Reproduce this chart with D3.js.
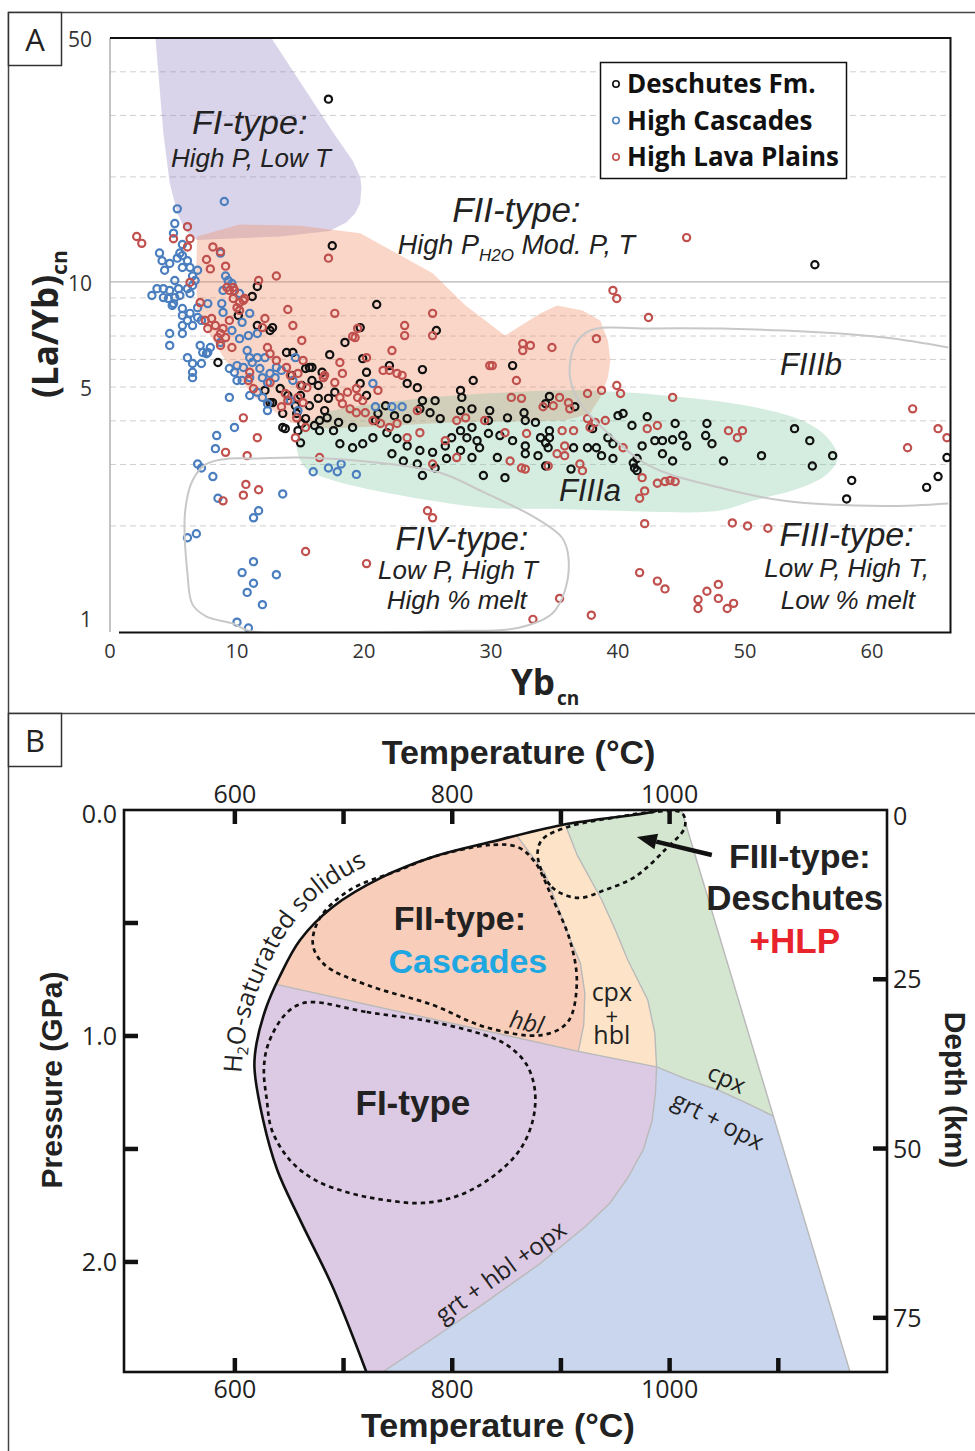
<!DOCTYPE html>
<html><head><meta charset="utf-8">
<script src="https://cdn.jsdelivr.net/npm/d3@7"></script>
<style>body{margin:0;background:#fff}svg{display:block}</style>
</head><body>
<svg id="c" width="975" height="1451"></svg>
<script>
// ---------------- DATA: Panel A  [Yb_cn, (La/Yb)_cn] ----------------
const deschutes = [[17.2,33.4],[17.5,12.7],[55.5,11.2],[11.6,9.71],[11.2,9.09],[10.1,8.02],[12.8,7.40],[21.0,8.62],[19.7,7.40],[18.5,6.71],[25.7,7.26],[13.9,6.28],[14.4,6.28],[17.3,6.19],[8.5,5.88],[19.9,6.03],[20.2,5.51],[24.6,5.61],[24.2,4.98],[28.6,5.22],[27.6,4.89],[27.7,4.67],[16.7,5.51],[15.9,5.69],[12.8,4.51],[13.8,3.80],[15.0,3.46],[15.1,3.93],[22.0,5.76],[23.4,5.12],[19.7,5.12],[20.2,4.73],[24.6,4.57],[25.6,4.57],[24.4,4.33],[21.7,4.42],[21.1,4.20],[22.4,4.14],[23.4,4.06],[25.2,4.22],[26.0,4.06],[27.6,4.28],[28.5,4.33],[29.9,4.28],[29.8,4.01],[28.5,3.83],[27.6,3.75],[26.9,3.58],[28.1,3.58],[28.9,3.51],[29.8,3.68],[26.4,3.39],[25.4,3.25],[24.4,3.29],[23.4,3.39],[22.6,3.56],[21.8,3.70],[20.7,3.58],[19.9,3.44],[19.1,3.35],[18.1,3.44],[17.6,3.75],[16.5,3.75],[17.1,4.08],[18.0,3.96],[19.1,3.83],[20.9,4.01],[22.2,3.22],[23.1,3.07],[24.2,3.01],[24.6,2.79],[25.6,2.93],[26.5,3.12],[27.6,3.29],[29.1,3.35],[29.4,2.79],[28.5,3.14],[15.0,4.73],[15.7,4.42],[16.4,4.64],[16.9,4.28],[15.4,4.06],[16.1,3.88],[14.8,3.75],[17.2,4.64],[17.7,4.83],[14.0,4.73],[14.6,4.42],[15.1,5.05],[15.9,5.22],[13.4,4.95],[14.3,5.40],[15.4,5.65],[16.4,5.05],[31.7,5.76],[34.6,4.70],[34.3,4.48],[36.6,4.39],[31.3,4.08],[32.6,4.22],[32.7,4.01],[33.5,3.96],[34.6,3.75],[30.7,3.63],[31.7,3.51],[33.9,3.58],[34.6,3.58],[32.7,3.22],[33.7,3.18],[34.3,2.97],[30.5,3.14],[31.1,2.75],[38.0,3.80],[36.5,3.35],[37.6,3.35],[38.3,3.35],[39.6,3.44],[39.2,3.58],[40.0,4.14],[40.4,4.20],[41.1,3.88],[42.3,4.11],[41.9,3.39],[42.9,3.51],[43.5,3.51],[44.3,3.53],[44.5,3.93],[45.1,3.63],[45.4,3.39],[43.5,3.22],[44.3,3.07],[41.5,3.12],[41.3,2.93],[39.6,3.12],[38.7,3.18],[36.3,2.91],[47.0,3.93],[46.9,3.63],[47.4,3.44],[48.3,3.07],[51.3,3.18],[53.9,3.80],[55.1,3.51],[55.3,2.97],[56.9,3.18],[58.4,2.70],[58.0,2.39],[64.3,2.58],[65.2,2.77],[65.9,3.14],[11.6,7.50],[12.6,7.26],[15.7,5.69],[12.2,4.89],[12.6,4.51],[13.6,4.20],[14.7,4.20],[16.5,4.01],[13.6,3.83],[34.3,3.46],[34.5,3.35],[32.7,3.39],[41.2,3.03],[41.5,2.88]];

const highCascades = [[9.0,17.0],[5.3,16.2],[5.1,14.7],[5.0,13.8],[5.7,12.8],[3.9,12.1],[4.1,11.5],[4.3,10.8],[4.7,11.3],[5.3,11.7],[5.7,11.9],[5.5,12.1],[6.1,11.5],[6.3,11.0],[5.7,11.0],[6.9,10.8],[8.7,12.1],[6.5,10.4],[5.1,10.1],[3.7,9.57],[4.2,9.57],[4.7,9.46],[5.4,9.57],[6.1,9.57],[6.5,9.77],[6.7,10.1],[3.3,9.15],[4.2,9.02],[4.6,8.96],[5.1,9.02],[5.5,9.15],[6.3,9.27],[4.9,8.56],[5.7,8.39],[9.1,10.4],[9.3,10.1],[9.6,9.90],[10.2,9.27],[8.9,9.46],[7.7,8.67],[6.9,8.44],[4.7,7.12],[4.7,6.58],[5.7,7.12],[5.7,7.50],[5.7,8.02],[6.1,7.76],[6.5,7.50],[6.9,7.91],[7.2,7.76],[6.3,8.13],[5.0,8.67],[7.1,6.58],[7.3,6.28],[7.7,6.28],[7.9,6.49],[6.1,6.07],[6.5,5.84],[7.2,5.84],[6.5,5.51],[6.5,5.32],[8.7,6.71],[9.4,5.65],[9.8,5.51],[10.0,5.76],[10.5,5.69],[11.0,6.07],[11.2,5.88],[11.6,6.07],[12.2,6.07],[10.9,7.02],[10.8,6.36],[10.2,6.88],[11.6,7.12],[10.0,5.22],[10.4,5.22],[11.0,5.32],[9.4,4.67],[11.0,4.73],[11.8,5.65],[12.0,5.32],[12.6,5.47],[13.1,5.69],[13.5,5.58],[13.0,5.32],[12.4,5.15],[14.4,5.22],[14.6,6.07],[11.6,4.83],[12.0,4.67],[12.4,4.48],[12.4,4.28],[14.2,4.57],[14.8,4.28],[9.8,3.83],[8.4,3.63],[8.9,8.18],[8.8,8.67],[9.6,7.26],[10.4,7.66],[11.0,8.13],[7.6,6.23],[8.1,2.77],[8.3,3.33],[6.9,3.01],[7.2,2.93],[8.5,2.40],[11.3,2.11],[11.7,2.21],[13.6,2.47],[6.1,1.85],[6.8,1.90],[11.3,1.58],[10.4,1.47],[11.3,1.37],[10.8,1.29],[13.1,1.45],[12.0,1.19],[10.0,1.06],[10.9,1.02],[16.0,2.86],[17.2,2.93],[17.9,2.86],[18.2,3.01],[19.4,2.81],[20.7,5.12],[20.9,4.39],[22.2,4.39],[23.0,4.39]];

const highLavaPlains = [[2.1,13.5],[2.5,12.9],[6.1,14.4],[6.3,13.3],[5.0,13.3],[6.1,12.6],[8.1,12.6],[7.6,11.6],[7.9,10.9],[9.1,11.1],[8.7,12.2],[17.2,11.7],[13.1,10.4],[11.7,10.1],[9.7,9.64],[9.2,9.64],[10.2,8.73],[7.1,8.73],[6.3,9.97],[10.0,8.44],[10.6,8.97],[14.0,8.34],[14.4,7.50],[15.1,6.80],[17.7,8.13],[19.3,6.93],[19.5,7.36],[23.2,7.50],[23.2,7.02],[25.4,8.13],[25.4,7.02],[22.2,6.36],[20.2,6.07],[12.2,7.86],[12.0,7.40],[7.5,7.76],[7.7,7.36],[8.7,7.12],[9.4,9.46],[9.8,9.46],[9.7,8.97],[10.5,8.85],[10.2,8.29],[8.3,7.50],[8.9,7.36],[9.4,7.76],[8.5,6.93],[9.1,6.93],[8.7,6.58],[12.4,6.49],[12.6,6.23],[15.2,5.96],[13.1,5.96],[13.9,5.69],[14.8,5.47],[11.0,5.51],[10.9,5.22],[12.6,5.15],[11.3,4.95],[14.2,5.40],[15.0,5.05],[15.5,4.98],[16.8,5.32],[13.8,4.79],[14.0,4.57],[14.8,4.67],[15.2,4.51],[13.5,4.39],[14.7,4.08],[10.5,4.08],[11.6,3.58],[15.4,3.83],[14.6,3.58],[9.6,6.49],[8.0,7.86],[9.1,3.25],[10.8,3.18],[10.7,2.63],[10.5,2.45],[11.7,2.54],[8.9,2.36],[15.4,1.69],[20.2,1.56],[25.0,2.21],[25.4,2.11],[16.5,3.14],[21.5,5.58],[29.9,5.76],[19.1,6.98],[18.1,5.88],[22.0,5.58],[22.6,5.47],[23.0,5.40],[18.3,5.47],[17.7,5.15],[16.9,5.40],[18.7,4.83],[19.4,4.95],[19.5,4.67],[21.1,4.89],[19.9,4.57],[18.1,4.67],[18.3,4.48],[18.9,4.33],[19.4,4.22],[20.1,4.22],[20.7,4.01],[21.3,3.93],[22.0,3.83],[22.6,3.93],[24.2,4.28],[23.4,3.58],[24.4,3.70],[27.3,4.01],[28.0,4.08],[29.5,4.01],[26.4,3.51],[27.3,3.14],[25.4,3.01],[39.6,9.46],[39.9,8.97],[42.4,7.91],[38.3,6.88],[32.5,6.66],[33.1,6.58],[32.5,6.36],[34.8,6.49],[30.1,5.76],[32.0,5.22],[39.9,5.05],[40.2,4.79],[38.7,4.89],[37.6,4.79],[35.4,4.67],[36.1,4.51],[36.2,4.33],[34.1,4.39],[34.9,4.42],[31.6,4.67],[32.4,4.64],[44.3,4.67],[37.6,4.06],[39.0,4.01],[35.6,3.75],[36.5,3.75],[35.8,3.39],[35.2,3.22],[35.8,3.18],[37.0,3.01],[37.2,2.88],[42.3,3.80],[43.1,3.88],[40.4,3.35],[31.5,3.07],[32.4,2.93],[34.5,2.97],[31.1,3.70],[32.8,3.68],[38.2,3.96],[37.8,3.83],[48.7,3.75],[49.8,3.75],[49.4,3.58],[41.9,2.75],[42.1,2.52],[41.7,2.40],[43.1,2.65],[43.7,2.68],[44.1,2.70],[44.5,2.68],[32.7,2.91],[42.1,2.03],[49.0,2.04],[50.2,2.00],[51.8,1.97],[41.7,1.47],[43.1,1.39],[43.7,1.32],[46.3,1.23],[46.3,1.16],[47.0,1.30],[47.9,1.36],[47.9,1.24],[48.6,1.16],[49.1,1.20],[35.4,1.24],[33.3,1.08],[37.9,1.11],[63.2,4.33],[62.8,3.35],[65.2,3.80],[65.9,3.58],[45.4,13.4]];

// region outlines (Yb, La/Yb)
const fiRegion = [[3.54,52],[12.4,52],[17.6,26.7],[19.1,22.3],[19.7,20.0],[19.8,18.7],[19.7,16.8],[19.3,15.7],[18.6,14.8],[17.3,14.0],[13.4,13.5],[6.85,13.2],[5.9,14.1],[5.3,15.8],[4.7,19.2],[4.2,26.7]];
const fiiRegion = [[6.85,13.5],[10.2,14.6],[15.0,14.5],[19.7,13.8],[25.4,10.6],[28.0,8.56],[31.1,7.02],[33.9,8.13],[35.2,8.56],[37.2,8.29],[38.6,7.76],[39.2,6.80],[39.4,5.96],[39.2,5.32],[38.6,4.67],[37.8,4.20],[35.8,4.01],[26.8,3.96],[17.3,3.80],[14.2,3.96],[11.4,4.67],[9.1,5.96],[7.9,7.02],[6.85,8.29],[6.8,11.0]];
const fiiiaRegion = [[14.7,3.35],[15.0,3.75],[16.3,4.08],[17.6,4.28],[22.8,4.57],[29.5,4.79],[37.4,4.89],[45.3,4.67],[50.6,4.39],[54.5,4.01],[56.5,3.58],[57.3,3.14],[56.5,2.82],[54.5,2.58],[50.6,2.36],[47.9,2.21],[40.0,2.21],[34.8,2.24],[29.9,2.25],[25.4,2.36],[17.6,2.70],[15.4,2.93]];
const fiiibOutline = [[66.0,6.49],[61.0,6.93],[53.1,7.26],[42.7,7.36],[37.8,7.26],[36.6,6.58],[36.2,5.40],[36.9,4.57],[39.0,3.75],[42.5,2.97],[47.9,2.58],[53.1,2.36],[61.0,2.28],[66.0,2.32]];
const fivOutline = [[11.3,3.12],[15.0,3.14],[21.3,3.03],[26.0,2.84],[29.5,2.49],[33.5,2.11],[35.6,1.85],[36.1,1.62],[35.8,1.30],[34.8,1.12],[32.1,1.02],[26.8,1.0],[11.0,1.0],[9.7,1.05],[7.6,1.10],[6.5,1.19],[6.1,1.46],[5.9,2.17],[6.5,2.70],[7.6,3.01],[9.4,3.12]];

const xTicksA = [0,10,20,30,40,50,60];
const yTickLabelsA = [1,5,10,50];
const yGridA = [2,3,4,5,6,7,8,9,20,30,40];
const seriesNames = ["Deschutes Fm.","High Cascades","High Lava Plains"];

// ---------------- DATA: Panel B  [T (°C), P (GPa)] ----------------
const solidus = [[990,0.0],[983,0.01],[901,0.066],[835,0.142],[782,0.208],[736,0.296],[690,0.429],[660,0.575],[641,0.739],[629,0.872],[620,1.031],[618,1.137],[626,1.372],[639,1.593],[660,1.814],[690,2.111],[721,2.487]];
const solidusLabelPath = [[606,1.165],[609,1.018],[617,0.858],[629,0.71],[647,0.548],[677,0.38],[724,0.24],[773,0.15],[812,0.10],[850,0.07]];
const pinkPurpleLine = [[620,0.753],[641,0.775],[916,1.068],[988,1.137]];
const pinkCreamLine = [[855,0.08],[860.3,0.119],[885.2,0.279],[906.3,0.544],[918,0.68],[922,0.81],[921,0.95],[916,1.068]];
const creamGreenLine = [[900,0.03],[903.6,0.06],[915,0.2],[937.6,0.398],[950,0.53],[961.5,0.664],[979.9,0.841],[986.4,0.987],[988,1.137]];
const greenBlueLine = [[988,1.137],[1015,1.19],[1044.3,1.239],[1070,1.295],[1096.8,1.358]];
const purpleBlueLine = [[988,1.137],[987,1.25],[984,1.372],[976,1.5],[962,1.624],[945,1.74],[922,1.845],[880,2.01],[830,2.181],[785,2.33],[736,2.487]];
const rightEdge = [[1011,0],[1166,2.487]];
const fiiLoop = [[860.3,0.164],[834.6,0.155],[782.2,0.208],[751.8,0.265],[705.8,0.354],[678.2,0.478],[671.8,0.597],[682.8,0.686],[721.4,0.774],[782.2,0.863],[830,0.960],[882.4,0.996],[906.3,0.938],[914.6,0.765],[908.2,0.575],[891.6,0.385],[876,0.230]];
const fiLoop = [[671.8,0.850],[721.4,0.894],[782.2,0.938],[834.6,1.004],[853,1.049],[868.6,1.128],[876,1.239],[874.2,1.372],[862.2,1.504],[839.2,1.615],[807,1.704],[773,1.739],[738,1.726],[705.8,1.695],[673.6,1.637],[650.6,1.549],[634,1.416],[629.4,1.283],[626.7,1.150],[630.4,1.040],[644.2,0.916],[658,0.863]];
const fiiiLoop = [[878.7,0.208],[891.6,0.341],[915.6,0.389],[940.4,0.354],[968,0.296],[995.6,0.177],[1014,0.075],[1011.2,0.013],[983.6,0.009],[952.3,0.031],[906.3,0.075],[882.4,0.133]];
const arrowTP = [[1038.8,0.199],[969.8,0.119]];
const tempTicks = [600,700,800,900,1000,1100];
const tempLabels = [600,800,1000];
const pressTicks = [0.5,1.0,1.5,2.0];
const pressLabels = [0.0,1.0,2.0];
const depthTicks = [25,50,75];
const depthLabels = [0,25,50,75];

// ---------------- DRAW ----------------
const svg = d3.select('#c');
const FS = "'Open Sans', sans-serif", AR = "'Liberation Sans', Arial, sans-serif";

// figure frame
svg.append('path').attr('d','M8.5,1451 V12.5 H975 M8.5,713.5 H975').attr('fill','none').attr('stroke','#444').attr('stroke-width',1.5);
[['A',12.5],['B',713.5]].forEach(([t,y])=>{
  svg.append('rect').attr('x',8.5).attr('y',y).attr('width',53).attr('height',53).attr('fill','#fff').attr('stroke','#333').attr('stroke-width',1.5);
  svg.append('text').attr('x',35).attr('y',y+38).attr('text-anchor','middle').attr('font-family',FS).attr('font-size',31).attr('fill','#222').text(t);
});

// ===== Panel A =====
const xA = d3.scaleLinear().domain([0,66.14]).range([110,950]);
const yA = d3.scaleLog().domain([1,50]).range([631,38]);
const gA = svg.append('g');
gA.append('clipPath').attr('id','clipA').append('rect').attr('x',110).attr('y',38).attr('width',840).attr('height',594);

// grid
gA.selectAll('.grid').data(yGridA).join('line').attr('x1',110).attr('x2',949).attr('y1',d=>yA(d)).attr('y2',d=>yA(d))
  .attr('stroke','#cfcfcf').attr('stroke-width',1).attr('stroke-dasharray','6,4');
gA.append('line').attr('x1',110).attr('x2',949).attr('y1',yA(10)).attr('y2',yA(10)).attr('stroke','#b3b3b3').attr('stroke-width',1.2);

const lineA = d3.line().x(d=>xA(d[0])).y(d=>yA(d[1]));
const regA = gA.append('g').attr('clip-path','url(#clipA)');
regA.append('path').attr('d',lineA.curve(d3.curveLinearClosed)(fiRegion)).attr('fill','rgb(149,132,195)').attr('fill-opacity',0.35);
regA.append('path').attr('d',lineA.curve(d3.curveLinearClosed)(fiiRegion)).attr('fill','rgb(238,138,98)').attr('fill-opacity',0.35);

// points
const ptsG = gA.append('g').attr('clip-path','url(#clipA)');
const drawPts = (data,color)=> ptsG.append('g').selectAll('circle').data(data).join('circle')
  .attr('cx',d=>xA(d[0])).attr('cy',d=>yA(d[1])).attr('r',3.6).attr('fill','none').attr('stroke',color).attr('stroke-width',2.2);
drawPts(deschutes,'#111');
drawPts(highCascades,'#4a7ebf');
drawPts(highLavaPlains,'#c0504d');

// green overlay region
regA.append('path').attr('d',lineA.curve(d3.curveCatmullRomClosed)(fiiiaRegion)).attr('fill','rgb(115,192,152)').attr('fill-opacity',0.3);
const outG = gA.append('g').attr('clip-path','url(#clipA)');
outG.append('path').attr('d',lineA.curve(d3.curveCatmullRom)(fiiibOutline)).attr('fill','none').attr('stroke','#c8c8c8').attr('stroke-width',2);
outG.append('path').attr('d',lineA.curve(d3.curveCatmullRomClosed)(fivOutline)).attr('fill','none').attr('stroke','#c8c8c8').attr('stroke-width',2);

// axes lines
gA.append('line').attr('x1',110).attr('x2',110).attr('y1',38).attr('y2',632).attr('stroke','#b0b0b0').attr('stroke-width',1.5);
gA.append('path').attr('d','M119,632.5 H950.5 V38 H110').attr('fill','none').attr('stroke','#111').attr('stroke-width',2);

// tick labels
gA.selectAll('.xt').data(xTicksA).join('text').attr('x',d=>xA(d)).attr('y',658).attr('text-anchor','middle')
  .attr('font-family',FS).attr('font-size',20).attr('fill','#333').text(d=>d);
gA.selectAll('.yt').data(yTickLabelsA).join('text').attr('x',92).attr('y',d=>yA(d)+(d===1?-4:9)).attr('text-anchor','end')
  .attr('font-family',FS).attr('font-size',21).attr('fill','#333').text(d=>d);

// axis titles
const ylab = gA.append('text').attr('transform','translate(58,398) rotate(-90)').attr('font-family',FS).attr('font-weight',700).attr('font-size',35).attr('fill','#222');
ylab.append('tspan').text('(La/Yb)');
ylab.append('tspan').attr('font-size',21).attr('dy',9).text('cn');
const xlab = gA.append('text').attr('x',511).attr('y',695).attr('font-family',FS).attr('font-weight',700).attr('font-size',35).attr('fill','#222');
xlab.append('tspan').text('Yb');
xlab.append('tspan').attr('font-size',19).attr('dy',10).attr('dx',2).text('cn');

// region labels (positioned in data space)
const labA = (t,yb,ly,size,italic=true)=> gA.append('text').attr('x',xA(yb)).attr('y',yA(ly)).attr('text-anchor','middle')
  .attr('font-family',AR).attr('font-style',italic?'italic':'normal').attr('font-size',size).attr('fill','#222').text(t);
labA('FI-type:',11.0,26.5,34);
labA('High P, Low T',11.1,21.3,26);
labA('FII-type:',32.0,14.9,35);
const hp = gA.append('text').attr('x',xA(32.0)).attr('y',yA(12.0)).attr('text-anchor','middle').attr('font-family',AR).attr('font-style','italic').attr('font-size',27).attr('fill','#222');
hp.append('tspan').text('High P');
hp.append('tspan').attr('font-size',17).attr('dy',7).text('H2O');
hp.append('tspan').attr('dy',-7).text(' Mod. P, T');
labA('FIIIb',55.2,5.40,31);
labA('FIIIa',37.8,2.36,31);
labA('FIV-type:',27.7,1.71,33);
labA('Low P, High T',27.4,1.41,26);
labA('High % melt',27.3,1.16,26);
labA('FIII-type:',58.0,1.75,34);
labA('Low P, High T,',58.0,1.43,26);
labA('Low % melt',58.1,1.16,26);

// legend
const leg = gA.append('g');
leg.append('rect').attr('x',600.5).attr('y',62.5).attr('width',246).attr('height',116).attr('fill','#fff').attr('stroke','#111').attr('stroke-width',1.5);
const legCols = ['#111','#4a7ebf','#c0504d'];
seriesNames.forEach((n,i)=>{
  const cy = 84 + i*36.5;
  leg.append('circle').attr('cx',616).attr('cy',cy).attr('r',3.2).attr('fill','none').attr('stroke',legCols[i]).attr('stroke-width',1.6);
  leg.append('text').attr('x',627).attr('y',cy+9).attr('font-family',FS).attr('font-weight',700).attr('font-size',26).attr('fill','#111').text(n);
});

// ===== Panel B =====
const xB = d3.scaleLinear().domain([498,1200]).range([124,887]);
const yB = d3.scaleLinear().domain([0,2.487]).range([810,1372]);
const yD = d3.scaleLinear().domain([0,83]).range([810,1372]);
const gB = svg.append('g');
const lineB = d3.line().x(d=>xB(d[0])).y(d=>yB(d[1]));
const solPath = lineB.curve(d3.curveCatmullRom)(solidus);
const clipD = solPath + `L${xB(1166)},${yB(2.487)}L${xB(1011)},${yB(0)}Z`;
gB.append('clipPath').attr('id','melt').append('path').attr('d',clipD);
const rg = gB.append('g').attr('clip-path','url(#melt)');
const poly = pts => lineB.curve(d3.curveLinearClosed)(pts);
rg.append('rect').attr('x',124).attr('y',810).attr('width',763).attr('height',562).attr('fill','#cad6ee');
rg.append('path').attr('d',poly([[498,0.615],...pinkPurpleLine.slice(1),...purpleBlueLine.slice(1),[498,2.487]])).attr('fill','#dcc9e3');
rg.append('path').attr('d',poly([[900,0],[1011,0],...greenBlueLine.slice().reverse(),...creamGreenLine.slice().reverse()])).attr('fill','#d4e6d0');
rg.append('path').attr('d',poly([[850,0],[900,0],...creamGreenLine,[916,1.068],...pinkCreamLine.slice().reverse().slice(1)])).attr('fill','#fde4c8');
rg.append('path').attr('d',poly([[498,0],[850,0],...pinkCreamLine,[641,0.775],[498,0.615]])).attr('fill','#f8cdb9');
[pinkPurpleLine,pinkCreamLine,creamGreenLine,greenBlueLine,purpleBlueLine].forEach(l=>{
  rg.append('path').attr('d',lineB.curve(d3.curveLinear)(l)).attr('fill','none').attr('stroke','#b9b9b9').attr('stroke-width',1.4);
});
gB.append('path').attr('d',lineB.curve(d3.curveLinear)(rightEdge)).attr('fill','none').attr('stroke','#b9b9b9').attr('stroke-width',1.4);
gB.append('path').attr('d',solPath).attr('fill','none').attr('stroke','#111').attr('stroke-width',2.6);

// dashed loops
[fiiLoop,fiLoop,fiiiLoop].forEach(l=>{
  gB.append('path').attr('d',lineB.curve(d3.curveCatmullRomClosed)(l)).attr('fill','none').attr('stroke','#111').attr('stroke-width',2.7).attr('stroke-dasharray','4.5,4');
});

// arrow
const [a0,a1] = arrowTP;
const ax0=xB(a0[0]), ay0=yB(a0[1]), ax1=xB(a1[0]), ay1=yB(a1[1]);
const ang = Math.atan2(ay1-ay0, ax1-ax0);
const hl=20, hw=8;
const bx = ax1 - hl*Math.cos(ang), by = ay1 - hl*Math.sin(ang);
gB.append('line').attr('x1',ax0).attr('y1',ay0).attr('x2',bx).attr('y2',by).attr('stroke','#111').attr('stroke-width',4.5);
gB.append('path').attr('d',`M${ax1},${ay1}L${bx - hw*Math.sin(ang)},${by + hw*Math.cos(ang)}L${bx + hw*Math.sin(ang)},${by - hw*Math.cos(ang)}Z`).attr('fill','#111');

// frame & ticks
gB.append('rect').attr('x',124).attr('y',810).attr('width',763).attr('height',562).attr('fill','none').attr('stroke','#111').attr('stroke-width',2.6);
const tk = gB.append('g').attr('stroke','#111').attr('stroke-width',4.5);
tempTicks.forEach(t=>{
  tk.append('line').attr('x1',xB(t)).attr('x2',xB(t)).attr('y1',810).attr('y2',824);
  tk.append('line').attr('x1',xB(t)).attr('x2',xB(t)).attr('y1',1372).attr('y2',1358);
});
pressTicks.forEach(p=> tk.append('line').attr('x1',124).attr('x2',138).attr('y1',yB(p)).attr('y2',yB(p)));
depthTicks.forEach(d=> tk.append('line').attr('x1',873).attr('x2',887).attr('y1',yD(d)).attr('y2',yD(d)));

const tB = (sel)=> sel.attr('font-family',FS).attr('font-size',25).attr('fill','#222');
tempLabels.forEach(t=>{
  tB(gB.append('text')).attr('x',xB(t)).attr('y',803).attr('text-anchor','middle').text(t);
  tB(gB.append('text')).attr('x',xB(t)).attr('y',1398).attr('text-anchor','middle').text(t);
});
pressLabels.forEach(p=> tB(gB.append('text')).attr('x',117).attr('y',yB(p)+9 + (p===0?4:0)).attr('text-anchor','end').text(p.toFixed(1)));
depthLabels.forEach(d=> tB(gB.append('text')).attr('x',893).attr('y',yD(d)+9 + (d===0?6:0)).text(d));

const boldB = (t,T,P,size,color='#222')=> gB.append('text').attr('x',xB(T)).attr('y',yB(P)).attr('text-anchor','middle')
  .attr('font-family',AR).attr('font-weight',700).attr('font-size',size).attr('fill',color).text(t);
boldB('Temperature (°C)',861,-0.204,34);
boldB('Temperature (°C)',842,2.775,34);
gB.append('text').attr('transform','translate(62,1080) rotate(-90)').attr('text-anchor','middle').attr('font-family',AR).attr('font-weight',700).attr('font-size',30).attr('fill','#222').text('Pressure (GPa)');
gB.append('text').attr('transform','translate(945,1090) rotate(90)').attr('text-anchor','middle').attr('font-family',AR).attr('font-weight',700).attr('font-size',30).attr('fill','#222').text('Depth (km)');

boldB('FII-type:',807,0.531,34);
boldB('Cascades',814.4,0.721,34,'#1ea7e1');
boldB('FIII-type:',1119.8,0.257,34);
boldB('Deschutes',1115.2,0.442,35);
boldB('+HLP',1115.2,0.633,35,'#e8232b');
boldB('FI-type',763.8,1.350,35);

const regB = (t,T,P,size,rot=0,italic=false)=> gB.append('text').attr('transform',`translate(${xB(T)},${yB(P)}) rotate(${rot})`)
  .attr('text-anchor','middle').attr('dominant-baseline','central').attr('font-family',FS).attr('font-style',italic?'italic':'normal').attr('font-size',size).attr('fill','#222').text(t);
regB('cpx',946.8,0.80,25);
regB('+',946.8,0.905,22);
regB('hbl',946.8,0.99,25);
regB('hbl',868.6,0.935,24,12,true);
regB('cpx',1053,1.185,24,24);
regB('grt + opx',1045,1.37,24,27);
regB('grt + hbl +opx',844,2.04,24,-36);

// curved solidus label
gB.append('path').attr('id','solLab').attr('d',lineB.curve(d3.curveCatmullRom)(solidusLabelPath)).attr('fill','none');
const st = gB.append('text').attr('font-family',FS).attr('font-size',25).attr('fill','#222');
const tp = st.append('textPath').attr('href','#solLab').attr('startOffset',0);
tp.append('tspan').text('H');
tp.append('tspan').attr('font-size',15).attr('dy',5).text('2');
tp.append('tspan').attr('dy',-5).text('O-saturated solidus');
</script>
</body></html>
